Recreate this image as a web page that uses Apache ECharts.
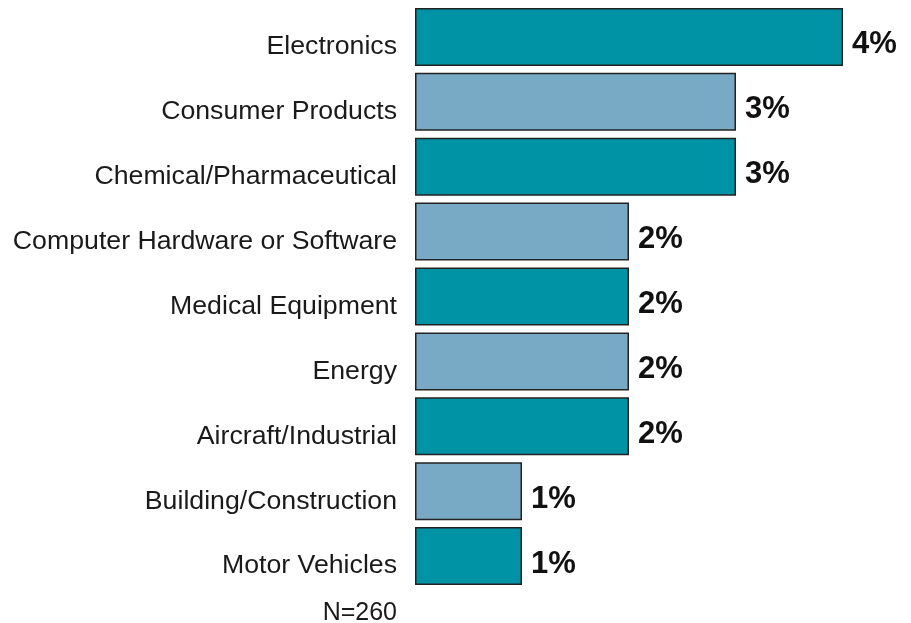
<!DOCTYPE html>
<html>
<head>
<meta charset="utf-8">
<script src="https://cdn.jsdelivr.net/npm/echarts@6/dist/echarts.min.js"></script>
<style>
  html, body { margin: 0; padding: 0; background: #ffffff; }
  #chart { width: 911px; height: 623px; }
</style>
</head>
<body>
<div id="chart"></div>
<script>
// Industry shares (percent of respondents)
const categories = [
  'Electronics',
  'Consumer Products',
  'Chemical/Pharmaceutical',
  'Computer Hardware or Software',
  'Medical Equipment',
  'Energy',
  'Aircraft/Industrial',
  'Building/Construction',
  'Motor Vehicles'
];
const shares = [4, 3, 3, 2, 2, 2, 2, 1, 1];
const sampleNote = 'N=260';

// alternating fills, top to bottom
const TEAL = '#0093a6';
const LIGHT = '#78a9c5';

const chart = echarts.init(document.getElementById('chart'));

chart.setOption({
  animation: false,
  backgroundColor: '#ffffff',
  grid: { left: 415, top: 4.5, width: 481.5, height: 584, containLabel: false },
  xAxis: {
    type: 'value',
    min: 0,
    max: 4.5,
    show: false
  },
  yAxis: {
    type: 'category',
    inverse: true,
    data: categories,
    axisLine: { show: false },
    axisTick: { show: false },
    axisLabel: {
      margin: 18,
      fontFamily: 'Liberation Sans, Arial, sans-serif',
      fontSize: 26.7,
      color: '#1a1a1a',
      verticalAlign: 'top',
      lineHeight: 20
    }
  },
  series: [{
    type: 'bar',
    barWidth: 58,
    data: shares.map((v, i) => ({
      value: v,
      itemStyle: { color: i % 2 === 0 ? TEAL : LIGHT }
    })),
    itemStyle: { borderColor: '#222222', borderWidth: 1.5 },
    label: {
      show: true,
      position: 'right',
      distance: 9,
      offset: [0, 8],
      formatter: '{c}%',
      fontFamily: 'Liberation Sans, Arial, sans-serif',
      fontWeight: 'bold',
      fontSize: 31,
      color: '#111111'
    }
  }],
  graphic: [{
    type: 'text',
    x: 397,
    y: 613,
    style: {
      text: sampleNote,
      fontFamily: 'Liberation Sans, Arial, sans-serif',
      fontSize: 25,
      fill: '#1a1a1a',
      textAlign: 'right',
      textVerticalAlign: 'middle'
    }
  }]
});
</script>
</body>
</html>
